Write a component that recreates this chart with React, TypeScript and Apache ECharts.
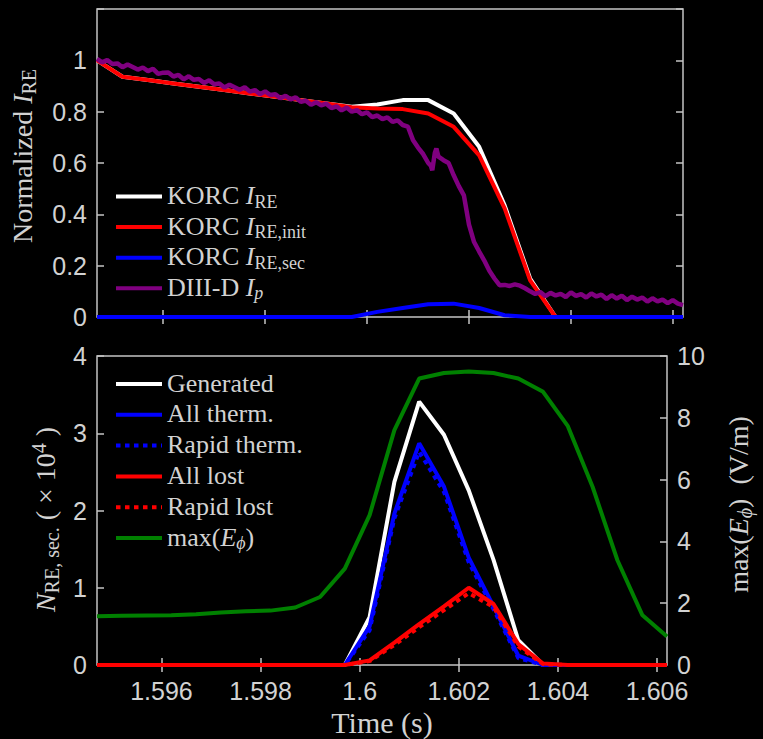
import React, { useEffect, useRef } from 'react';
import * as echarts from 'echarts';

// ---------- data ----------
const simTime = [
  1.5947, 1.5952, 1.5957, 1.5962, 1.5967, 1.5972, 1.5977, 1.5982, 1.5987, 1.5992,
  1.5997, 1.6002, 1.6007, 1.6012, 1.6017, 1.6022, 1.6027, 1.6032, 1.6037, 1.6042,
  1.6047, 1.6052, 1.6057, 1.6062,
];

// top panel: normalized currents
const korcIRE = [
  1.0, 0.936, 0.923, 0.91, 0.897, 0.884, 0.871, 0.858, 0.845, 0.832,
  0.819, 0.828, 0.845, 0.845, 0.793, 0.663, 0.435, 0.15, 0, 0,
  0, 0, 0, 0,
];
const korcIREinit = [
  1.0, 0.936, 0.923, 0.91, 0.897, 0.884, 0.871, 0.858, 0.845, 0.832,
  0.817, 0.812, 0.81, 0.793, 0.741, 0.63, 0.423, 0.143, 0, 0,
  0, 0, 0, 0,
];
const korcIREsec = [
  0, 0, 0, 0, 0, 0, 0, 0, 0, 0,
  0, 0.02, 0.035, 0.05, 0.052, 0.035, 0.007, 0, 0, 0,
  0, 0, 0, 0,
];

const diiidTime = [
  1.5947, 1.5948, 1.5949, 1.595, 1.5951, 1.5952, 1.5953, 1.5954, 1.5955, 1.5956,
  1.5957, 1.5958, 1.5959, 1.596, 1.5961, 1.5962, 1.5963, 1.5964, 1.5965, 1.5966,
  1.5967, 1.5968, 1.5969, 1.597, 1.5971, 1.5972, 1.5973, 1.5974, 1.5975, 1.5976,
  1.5977, 1.5978, 1.5979, 1.598, 1.5981, 1.5982, 1.5983, 1.5984, 1.5985, 1.5986,
  1.5987, 1.5988, 1.5989, 1.599, 1.5991, 1.5992, 1.5993, 1.5994, 1.5995, 1.5996,
  1.5997, 1.5998, 1.5999, 1.6, 1.6001, 1.6002, 1.6003, 1.6004, 1.6005, 1.6006,
  1.6007, 1.6008, 1.6009, 1.601, 1.6011, 1.6012, 1.60125, 1.60128, 1.60133, 1.60136,
  1.6014, 1.6015, 1.6016, 1.6017, 1.6018, 1.6019, 1.602, 1.6021, 1.6022, 1.6023,
  1.6024, 1.6025, 1.6026, 1.6027, 1.6028, 1.6029, 1.603, 1.6031, 1.6032, 1.6033,
  1.6034, 1.6035, 1.6036, 1.6037, 1.6038, 1.6039, 1.604, 1.6041, 1.6042, 1.6043,
  1.6044, 1.6045, 1.6046, 1.6047, 1.6048, 1.6049, 1.605, 1.6051, 1.6052, 1.6053,
  1.6054, 1.6055, 1.6056, 1.6057, 1.6058, 1.6059, 1.606, 1.6061, 1.6062,
];
const diiidIp = [
  1.006, 0.992, 1.001, 0.986, 0.988, 0.973, 0.984, 0.974, 0.964, 0.972,
  0.958, 0.967, 0.947, 0.952, 0.953, 0.937, 0.943, 0.926, 0.938, 0.924,
  0.927, 0.912, 0.922, 0.907, 0.91, 0.894, 0.905, 0.895, 0.885, 0.895,
  0.878, 0.884, 0.868, 0.879, 0.865, 0.868, 0.852, 0.862, 0.848, 0.856,
  0.838, 0.843, 0.827, 0.837, 0.825, 0.831, 0.814, 0.821, 0.805, 0.816,
  0.8, 0.806, 0.79, 0.797, 0.779, 0.785, 0.771, 0.778, 0.76, 0.766,
  0.748, 0.742, 0.69, 0.66, 0.635, 0.6, 0.59, 0.572, 0.64, 0.656,
  0.625, 0.611, 0.6, 0.552, 0.51, 0.474, 0.36, 0.292, 0.255, 0.22,
  0.18, 0.15, 0.124, 0.125, 0.121, 0.127, 0.122, 0.112, 0.1, 0.09,
  0.097, 0.081, 0.094, 0.084, 0.09, 0.078, 0.096, 0.082, 0.089, 0.076,
  0.092, 0.08, 0.087, 0.07, 0.085, 0.072, 0.083, 0.066, 0.079, 0.068,
  0.076, 0.06, 0.073, 0.061, 0.068, 0.054, 0.066, 0.052, 0.046,
];

// bottom panel: secondary RE counts (x10^4) and max E_phi (V/m)
const generated = [
  0, 0, 0, 0, 0, 0, 0, 0, 0, 0,
  0, 0.62, 2.37, 3.41, 2.98, 2.26, 1.36, 0.32, 0, 0,
  0, 0, 0, 0,
];
const allTherm = [
  0, 0, 0, 0, 0, 0, 0, 0, 0, 0,
  0, 0.5, 1.96, 2.87, 2.31, 1.39, 0.76, 0.12, 0, 0,
  0, 0, 0, 0,
];
const rapidTherm = [
  0, 0, 0, 0, 0, 0, 0, 0, 0, 0,
  0, 0.45, 1.9, 2.76, 2.24, 1.33, 0.72, 0.09, 0, 0,
  0, 0, 0, 0,
];
const allLost = [
  0, 0, 0, 0, 0, 0, 0, 0, 0, 0,
  0, 0.06, 0.29, 0.53, 0.76, 1.0, 0.79, 0.27, 0.02, 0,
  0, 0, 0, 0,
];
const rapidLost = [
  0, 0, 0, 0, 0, 0, 0, 0, 0, 0,
  0, 0.05, 0.26, 0.49, 0.71, 0.93, 0.75, 0.24, 0.01, 0,
  0, 0, 0, 0,
];
const maxEphi = [
  1.58, 1.59, 1.6, 1.61, 1.64, 1.7, 1.74, 1.76, 1.86, 2.2,
  3.12, 4.85, 7.6, 9.27, 9.45, 9.5, 9.45, 9.27, 8.84, 7.73,
  5.76, 3.39, 1.62, 0.92,
];

const timeTicks = [1.596, 1.598, 1.6, 1.602, 1.604, 1.606];

// ---------- styling ----------
const AX = '#c4c4c4';
const TXT = '#d2d2d2';
const SERIF = '"Liberation Serif", "DejaVu Serif", serif';
const SANS = '"Liberation Sans", Arial, sans-serif';
const X0 = 1.5947;
const X1 = 1.6062;

function richSet(size: number, forGraphic: boolean) {
  const c = forGraphic ? { fill: TXT } : { color: TXT };
  const sub = Math.round(size * 0.7);
  return {
    t: { ...c, fontSize: size, fontFamily: SERIF, verticalAlign: 'middle' },
    i: { ...c, fontSize: size, fontFamily: SERIF, fontStyle: 'italic', verticalAlign: 'middle' },
    s: { ...c, fontSize: sub, fontFamily: SERIF, verticalAlign: 'middle', padding: [Math.round(size * 0.46), 0, 0, 0] },
    si: { ...c, fontSize: sub, fontFamily: SERIF, fontStyle: 'italic', verticalAlign: 'middle', padding: [Math.round(size * 0.46), 0, 0, 0] },
    p: { ...c, fontSize: sub, fontFamily: SERIF, verticalAlign: 'middle', padding: [0, 0, Math.round(size * 0.5), 0] },
  };
}

const topLegend = [
  { color: '#ffffff', dotted: false, label: '{t|KORC }{i|I}{s|RE}' },
  { color: '#ff0000', dotted: false, label: '{t|KORC }{i|I}{s|RE,init}' },
  { color: '#0000ff', dotted: false, label: '{t|KORC }{i|I}{s|RE,sec}' },
  { color: '#800080', dotted: false, label: '{t|DIII-D }{i|I}{si|p}' },
];
const bottomLegend = [
  { color: '#ffffff', dotted: false, label: '{t|Generated}' },
  { color: '#0000ff', dotted: false, label: '{t|All therm.}' },
  { color: '#0000ff', dotted: true, label: '{t|Rapid therm.}' },
  { color: '#ff0000', dotted: false, label: '{t|All lost}' },
  { color: '#ff0000', dotted: true, label: '{t|Rapid lost}' },
  { color: '#008000', dotted: false, label: '{t|max(}{i|E}{si|ϕ}{t|)}' },
];

function legendGraphics(items: typeof topLegend, y0: number, step: number) {
  const els: any[] = [];
  items.forEach((it, idx) => {
    const y = y0 + idx * step;
    els.push({
      type: 'line',
      shape: { x1: 116, y1: y, x2: 162, y2: y },
      style: { stroke: it.color, lineWidth: 4, lineDash: it.dotted ? [4.5, 4.5] : null },
      silent: true,
    });
    els.push({
      type: 'text',
      x: 167,
      y: y - 1,
      style: {
        text: it.label,
        rich: richSet(26, true),
        fill: TXT,
        fontSize: 26,
        fontFamily: SERIF,
        align: 'left',
        verticalAlign: 'middle',
      },
      silent: true,
    });
  });
  return els;
}

function xAxisCfg(gridIndex: number, position: 'top' | 'bottom', labels: boolean) {
  return {
    type: 'value',
    gridIndex,
    position,
    min: X0,
    max: X1,
    axisLine: { show: false },
    splitLine: { show: false },
    axisTick: {
      show: true,
      inside: true,
      length: 7,
      customValues: timeTicks,
      lineStyle: { color: AX, width: 1.5 },
    },
    axisLabel: labels
      ? {
          show: true,
          customValues: timeTicks,
          color: TXT,
          fontFamily: SANS,
          fontSize: 25,
          margin: 13,
          formatter: (v: number) => String(Number(v.toFixed(3))),
        }
      : { show: false },
  };
}

function yAxisCfg(
  gridIndex: number,
  position: 'left' | 'right',
  min: number,
  max: number,
  interval: number,
  labels: boolean,
  hideMax: boolean,
) {
  return {
    type: 'value',
    gridIndex,
    position,
    min,
    max,
    interval,
    axisLine: { show: false },
    splitLine: { show: false },
    axisTick: { show: true, inside: true, length: 7, lineStyle: { color: AX, width: 1.5 } },
    axisLabel: labels
      ? {
          show: true,
          color: TXT,
          fontFamily: SANS,
          fontSize: 25,
          margin: 10,
          formatter: (v: number) => (hideMax && Math.abs(v - max) < 1e-9 ? '' : String(Number(v.toFixed(3)))),
        }
      : { show: false },
  };
}

function pairs(xs: number[], ys: number[]) {
  return xs.map((x, i) => [x, ys[i]]);
}

function lineSeries(
  name: string,
  xAxisIndex: number,
  yAxisIndex: number,
  data: number[][],
  color: string,
  dotted = false,
  width = 4,
) {
  return {
    type: 'line',
    name,
    xAxisIndex,
    yAxisIndex,
    data,
    symbol: 'none',
    showSymbol: false,
    silent: true,
    lineStyle: { color, width, type: dotted ? [4.5, 4.5] : 'solid' },
    itemStyle: { color },
  };
}

export default function App() {
  const ref = useRef<HTMLDivElement>(null);

  useEffect(() => {
    if (!ref.current) return;
    const chart = echarts.init(ref.current, null, { renderer: 'svg' });

    const yTop = yAxisCfg(0, 'left', 0, 1.2, 0.2, true, true) as any;
    yTop.name = '{t|Normalized }{i|I}{s|RE}';
    yTop.nameLocation = 'middle';
    yTop.nameGap = 58;
    yTop.nameRotate = 90;
    yTop.nameTextStyle = { rich: richSet(28, false), color: TXT, fontFamily: SERIF, fontSize: 28, padding: [0, 0, 0, 14] };

    const yBotL = yAxisCfg(1, 'left', 0, 4, 1, true, false) as any;
    yBotL.name = '{i|N}{s|RE, sec.}{t| ( × 10}{p|4}{t| )}';
    yBotL.nameLocation = 'middle';
    yBotL.nameGap = 34;
    yBotL.nameRotate = 90;
    yBotL.nameTextStyle = { rich: richSet(28, false), color: TXT, fontFamily: SERIF, fontSize: 28, padding: [0, 18, 0, 0] };

    const yBotR = yAxisCfg(1, 'right', 0, 10, 2, true, false) as any;
    yBotR.name = '{t|max(}{i|E}{si|ϕ}{t|)  (V/m)}';
    yBotR.nameLocation = 'middle';
    yBotR.nameGap = 55;
    yBotR.nameRotate = 90;
    yBotR.nameTextStyle = { rich: richSet(28, false), color: TXT, fontFamily: SERIF, fontSize: 28, padding: [0, 0, 0, 12] };

    const xBot = xAxisCfg(1, 'bottom', true) as any;
    xBot.name = 'Time (s)';
    xBot.nameLocation = 'middle';
    xBot.nameGap = 42;
    xBot.nameTextStyle = { color: TXT, fontFamily: SERIF, fontSize: 30 };

    const option: any = {
      animation: false,
      backgroundColor: '#000000',
      grid: [
        {
          left: 97,
          right: 80,
          top: 9,
          height: 308,
          show: true,
          borderColor: AX,
          borderWidth: 1.5,
          backgroundColor: 'transparent',
        },
        {
          left: 97,
          right: 80,
          top: 356,
          height: 309,
          show: true,
          borderColor: AX,
          borderWidth: 1.5,
          backgroundColor: 'transparent',
        },
      ],
      xAxis: [
        xAxisCfg(0, 'bottom', false),
        xAxisCfg(0, 'top', false),
        xBot,
        xAxisCfg(1, 'top', false),
      ],
      yAxis: [
        yTop,
        yAxisCfg(0, 'right', 0, 1.2, 0.2, false, false),
        yBotL,
        yBotR,
      ],
      series: [
        lineSeries('KORC I_RE', 0, 0, pairs(simTime, korcIRE), '#ffffff'),
        lineSeries('KORC I_RE,init', 0, 0, pairs(simTime, korcIREinit), '#ff0000'),
        lineSeries('KORC I_RE,sec', 0, 0, pairs(simTime, korcIREsec), '#0000ff'),
        lineSeries('DIII-D I_p', 0, 0, pairs(diiidTime, diiidIp), '#800080', false, 4.5),
        lineSeries('Generated', 2, 2, pairs(simTime, generated), '#ffffff'),
        lineSeries('All therm.', 2, 2, pairs(simTime, allTherm), '#0000ff'),
        lineSeries('Rapid therm.', 2, 2, pairs(simTime, rapidTherm), '#0000ff', true),
        lineSeries('All lost', 2, 2, pairs(simTime, allLost), '#ff0000'),
        lineSeries('Rapid lost', 2, 2, pairs(simTime, rapidLost), '#ff0000', true),
        lineSeries('max(E_phi)', 2, 3, pairs(simTime, maxEphi), '#008000'),
      ],
      graphic: [
        ...legendGraphics(topLegend, 196.5, 30.6),
        ...legendGraphics(bottomLegend, 384, 30.8),
      ],
    };

    chart.setOption(option);
    return () => chart.dispose();
  }, []);

  return (
    <div
      ref={ref}
      style={{ position: 'fixed', left: 0, top: 0, width: 763, height: 739, background: '#000' }}
    />
  );
}
